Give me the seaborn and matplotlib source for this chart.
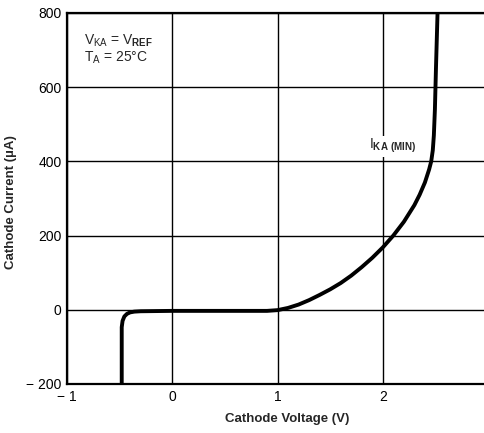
import seaborn as sns
import matplotlib.pyplot as plt
import pandas as pd

# curve (V, uA)
cathode_voltage = [-0.48, -0.48, -0.472, -0.455, -0.43, -0.40, -0.36, -0.30, 0.0, 0.5, 0.9,
                   1.0, 1.1, 1.2, 1.3, 1.4, 1.5, 1.6, 1.7, 1.8, 1.9, 2.0, 2.1, 2.2, 2.3,
                   2.35, 2.4, 2.44, 2.46, 2.475, 2.485, 2.495, 2.505, 2.52]
cathode_current = [-200, -47, -30, -18, -11, -7, -5, -4, -3, -3, -3,
                   -1, 5, 14, 26, 40, 55, 72, 92, 115, 140, 168, 200, 237, 282,
                   310, 343, 378, 400, 430, 470, 540, 650, 800]

x_ticks = [-1, 0, 1, 2, 3]
x_tick_labels = ["\u2212 1", "0", "1", "2", "3"]
y_ticks = [-200, 0, 200, 400, 600, 800]
y_tick_labels = ["\u2212 200", "0", "200", "400", "600", "800"]

df = pd.DataFrame({"v": cathode_voltage, "i": cathode_current})

sns.set_style("white")
plt.rcParams['font.family'] = ['Liberation Sans', 'DejaVu Sans']
plt.rcParams['mathtext.fontset'] = 'custom'
plt.rcParams['mathtext.rm'] = 'Liberation Sans'
plt.rcParams['mathtext.bf'] = 'Liberation Sans:bold'

fig = plt.figure(figsize=(4.84, 4.33), dpi=100)
ax = fig.add_axes([0.1384, 0.1132, 0.870, 0.857])

ax.set_xlim(-1, 3)
ax.set_ylim(-200, 800)

# grid
for xv in x_ticks:
    ax.axvline(xv, color='black', lw=1.0, zorder=1)
for yv in y_ticks:
    ax.axhline(yv, color='black', lw=1.0, zorder=1)

sns.lineplot(data=df, x="v", y="i", sort=False, estimator=None, color='black',
             lw=2.8, ax=ax, zorder=3)

ax.set_xticks(x_ticks)
ax.set_xticklabels(x_tick_labels, fontsize=10)
ax.set_yticks(y_ticks)
ax.set_yticklabels(y_tick_labels, fontsize=10)
ax.tick_params(length=0, pad=4, colors='black')

for s in ax.spines.values():
    s.set_linewidth(1.6)
    s.set_color('black')

ax.set_xlabel("Cathode Voltage (V)", fontsize=9.5, fontweight='bold')
ax.xaxis.set_label_coords(0.523, -0.078)
ax.set_ylabel("Cathode Current (\u00b5A)", fontsize=9.5, fontweight='bold')
ax.yaxis.set_label_coords(-0.118, 0.49)

ax.text(-0.84, 724, r"V$_{\mathregular{KA}}$ = V$_{\mathbf{REF}}$", fontsize=10,
        va='center', ha='left', zorder=4)
ax.text(-0.84, 680, "T$_{\\mathregular{A}}$ = 25\u00b0C",
        fontsize=10, va='center', ha='left', zorder=4)
ax.text(1.87, 441, r"I$_{\mathbf{KA\ (MIN)}}$", fontsize=10, va='center', ha='left',
        zorder=4, bbox=dict(facecolor='white', edgecolor='none', pad=1))

fig.savefig("out.png", dpi=100)
